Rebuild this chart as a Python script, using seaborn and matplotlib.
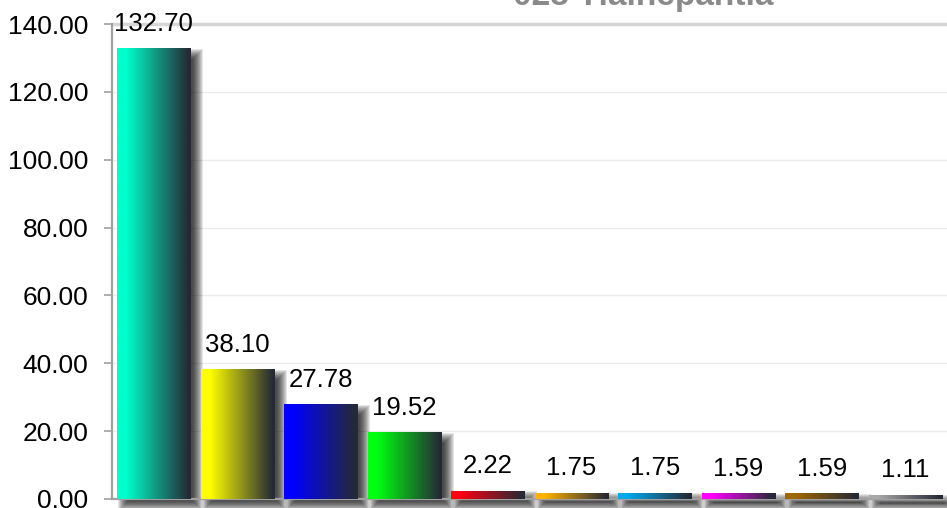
import numpy as np
import matplotlib
matplotlib.use("Agg")
import matplotlib.pyplot as plt
import matplotlib.transforms as mtransforms
from matplotlib.colors import to_rgb
from matplotlib.patches import Rectangle
import seaborn as sns
import pandas as pd

# ---- data ----
title = "025 Tlalnepantla"
categories = ["C1", "C2", "C3", "C4", "C5", "C6", "C7", "C8", "C9", "C10"]
values = [132.70, 38.10, 27.78, 19.52, 2.22, 1.75, 1.75, 1.59, 1.59, 1.11]
colors = ["#00ffcc", "#ffff00", "#0000ff", "#00ff10", "#ff0010",
          "#ffb300", "#00aaee", "#ff00ff", "#a06800", "#a8a8a8"]
yticks = [0, 20, 40, 60, 80, 100, 120, 140]

sns.set_theme(style="white")
plt.rcParams["font.family"] = ["Liberation Sans", "DejaVu Sans"]
plt.rcParams["text.color"] = "black"
plt.rcParams["ytick.color"] = "black"

W, H = 947, 508
fig = plt.figure(figsize=(W / 100, H / 100), dpi=100)
ax = fig.add_axes([112 / W, 1 - 499 / H, 835 / W, 475 / H])

df = pd.DataFrame({"cat": categories, "val": values})
sns.barplot(data=df, x="cat", y="val", hue="cat", palette=colors, width=0.88,
            legend=False, ax=ax, saturation=1, zorder=3)

ax.set_xlim(-0.5, len(categories) - 0.5)
ax.set_ylim(0, 140)
fig.canvas.draw()

dark = np.array(to_rgb("#252a35"))
n = 256
t = np.linspace(0, 1, n)
s = np.clip((t - 0.12) / (0.97 - 0.12), 0, 1)

ident = mtransforms.IdentityTransform()
for patch, c, v in zip(ax.patches, colors, values):
    x, y = patch.get_x(), patch.get_y()
    w, h = patch.get_width(), patch.get_height()
    rgb = (1 - s)[:, None] * np.array(to_rgb(c)) + s[:, None] * dark
    ax.imshow(rgb[None, :, :], extent=[x, x + w, y, y + h], aspect="auto",
              zorder=3, interpolation="bilinear")
    # blurred shadow in pixel coords
    (x0, y0), (x1, y1) = ax.transData.transform([(x, y), (x + w, y + h)])
    dx, dy = 7, -6
    for k in range(-4, 7):
        r = Rectangle((x0 + dx - k, y0 + dy - k), (x1 - x0) + 2 * k,
                      (y1 - y0) + 2 * k, transform=ident, facecolor="black",
                      edgecolor="none", alpha=0.10, zorder=2.5, clip_on=False)
        ax.add_artist(r)
    ax.annotate(f"{v:.2f}", (x + w / 2, h), xytext=(0, 13),
                textcoords="offset points", ha="center", va="baseline",
                fontsize=18.5, color="black", zorder=5)
    patch.set_visible(False)

ax.set_xlim(-0.5, len(categories) - 0.5)
ax.set_ylim(0, 140)
ax.set_xticks([])
ax.set_xlabel("")
ax.set_ylabel("")
ax.set_yticks(yticks)
ax.set_yticklabels([f"{v:.2f}" for v in yticks])
ax.tick_params(axis="y", left=True, length=5.5, width=1.2, color="#a0a0a0",
               pad=11.5, labelsize=19, labelcolor="black")
ax.yaxis.grid(True, color="#ececec", lw=1)
ax.set_axisbelow(True)
ax.axhline(140, color="#d6d6d6", lw=2.5, clip_on=False, zorder=1)
for side in ["top", "right"]:
    ax.spines[side].set_visible(False)
for side in ["left", "bottom"]:
    ax.spines[side].set_color("#a0a0a0")
    ax.spines[side].set_linewidth(1.6)

fig.text(643 / W, 1 - 5 / H, title, ha="center", va="baseline", fontsize=24,
         fontweight="bold", color="#8a8a8a")

fig.savefig("out.png", dpi=100)
